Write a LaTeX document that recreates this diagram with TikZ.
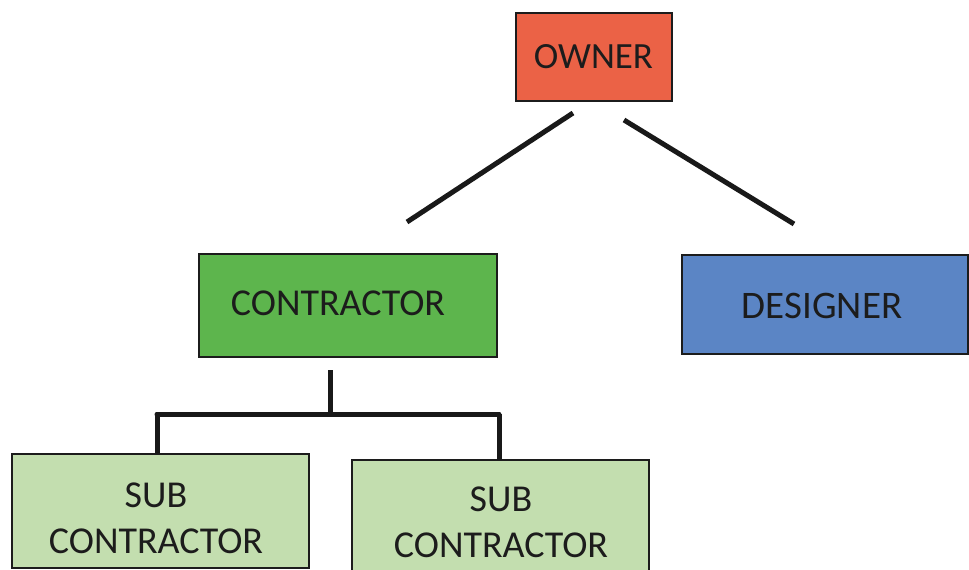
\documentclass[tikz,border=0pt]{standalone}
\usepackage{fontspec}
\setmainfont{Carlito}
\definecolor{ownerfill}{HTML}{EB6246}
\definecolor{contrfill}{HTML}{5DB54D}
\definecolor{desfill}{HTML}{5B85C5}
\definecolor{subfill}{HTML}{C3DEAF}
\definecolor{ink}{HTML}{1C1C1C}
\tikzset{
  box/.style={draw=ink, line width=2pt, rectangle, inner sep=0pt, outer sep=0pt,
    text=ink, align=center, font=\fontsize{38}{46}\selectfont},
  link/.style={draw=black!90, line width=5pt},
}
\begin{document}
\begin{tikzpicture}[x=1pt,y=-1pt]
  \useasboundingbox (0,0) rectangle (969,570);
  \clip (0,0) rectangle (969,570);
  % boxes
  \node[box, fill=ownerfill, minimum width=156pt, minimum height=88pt,
        font=\fontsize{37}{44}\selectfont] (owner) at (593.5,57) {OWNER};
  \node[box, fill=contrfill, minimum width=298pt, minimum height=103pt] (contractor) at (348,305.5) {};
  \node[text=ink, font=\fontsize{38}{46}\selectfont] (contrlabel) at (338,303) {CONTRACTOR};
  \node[box, fill=desfill, minimum width=286pt, minimum height=99pt] (designer) at (825,304.5) {};
  \node[text=ink, font=\fontsize{39}{46}\selectfont] (deslabel) at (822,306) {DESIGNER};
  \node[box, fill=subfill, minimum width=297pt, minimum height=114pt] (subA) at (160.5,511) {};
  \node[text=ink, align=center, font=\fontsize{38}{46}\selectfont] (subAlabel) at (156,518) {SUB\\CONTRACTOR};
  \node[box, fill=subfill, minimum width=297pt, minimum height=120pt] (subB) at (500.5,520) {};
  \node[text=ink, align=center, font=\fontsize{38}{46}\selectfont] (subBlabel) at (501,522) {SUB\\CONTRACTOR};
  % free ends of the owner links
  \coordinate (oL) at (573,113);
  \coordinate (oLend) at (407,222);
  \coordinate (oR) at (624,120);
  \coordinate (oRend) at (794,224);
  \draw[link] (oL) -- (oLend);
  \draw[link] (oR) -- (oRend);
  % contractor branch
  \coordinate (cTop) at (330,370);
  \coordinate (cJoin) at (330,414);
  \coordinate (barL) at (157,414);
  \coordinate (barR) at (499,414);
  \draw[link] (cTop) -- (cJoin);
  \draw[link, line cap=round] (barL) -- (barR);
  \draw[link] (barL) -- (barL |- subA.north);
  \draw[link] (barR) -- (barR |- subB.north);
\end{tikzpicture}
\end{document}
